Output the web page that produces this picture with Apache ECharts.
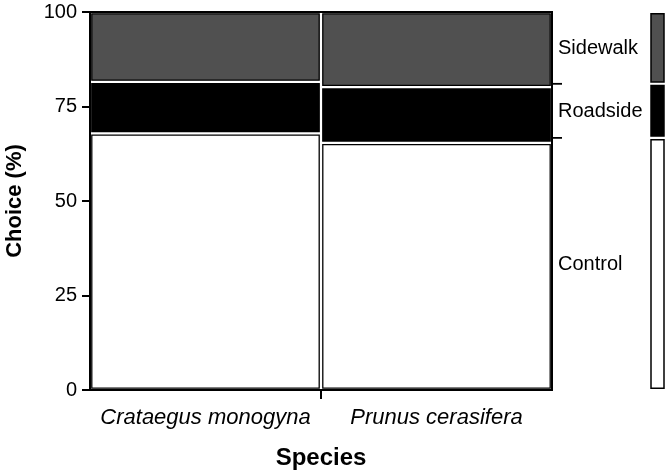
<!DOCTYPE html>
<html>
<head>
<meta charset="utf-8">
<script src="https://cdn.jsdelivr.net/npm/echarts@6/dist/echarts.min.js"></script>
<style>
  html,body{margin:0;padding:0;background:#fff;}
  #chart{width:669px;height:475px;}
</style>
</head>
<body>
<div id="chart"></div>
<script>
// categories
const species = ['Crataegus monogyna', 'Prunus cerasifera']
const groups = ['Control', 'Roadside', 'Sidewalk']
// choice (%) per species, bottom to top
const control = [67.9, 65.4]
const roadside = [13.6, 14.7]
const sidewalk = [18.5, 19.9]
// overall choice (%) shown on the right
const overall = [66.7, 14.3, 19.0]
const yTicks = [0, 25, 50, 75, 100]

const fills = ['#ffffff', '#000000', '#505050']
const font = '"Liberation Sans", Arial, sans-serif'

// build stacked segments [speciesIdx, start, end, groupIdx]
const layers = [control, roadside, sidewalk]
let mosaic = []
species.forEach((s, i) => {
  let acc = 0
  layers.forEach((arr, g) => {
    mosaic.push([i, acc, acc + arr[i], g])
    acc += arr[i]
  })
})
let margin = []
let acc2 = 0
overall.forEach((v, g) => {
  margin.push([acc2, acc2 + v, g])
  acc2 += v
})

const chart = echarts.init(document.getElementById('chart'), null, {renderer: 'canvas'})

function renderMosaic(params, api){
  const i = api.value(0), y0 = api.value(1), y1 = api.value(2), g = api.value(3)
  const c = api.coord([i, 0])
  const bw = api.size([1, 0])[0]
  const top = api.coord([i, y1])[1]
  const bot = api.coord([i, y0])[1]
  const inset = 1.8
  const children = [{
    type: 'rect',
    shape: {x: c[0] - bw / 2 + inset, y: top + inset, width: bw - 2 * inset, height: bot - top - 2 * inset},
    style: {fill: fills[g], stroke: '#000', lineWidth: 1.3}
  }]
  // tick between the two species, under the axis
  if (i > 0 && g === 0) {
    const xb = c[0] - bw / 2
    children.push({
      type: 'line',
      shape: {x1: xb, y1: c[1], x2: xb, y2: c[1] + 9},
      style: {stroke: '#000', lineWidth: 2}
    })
  }
  return {type: 'group', children}
}

function renderMargin(params, api){
  const y0 = api.value(0), y1 = api.value(1), g = api.value(2)
  const last = species.length - 1
  const c = api.coord([last, 0])
  const bw = api.size([1, 0])[0]
  const xr = c[0] + bw / 2
  const top = api.coord([last, y1])[1]
  const bot = api.coord([last, y0])[1]
  const children = [{
    type: 'text',
    style: {
      text: groups[g], x: xr + 6, y: (top + bot) / 2 + 1,
      fill: '#000', fontSize: 20, fontFamily: font,
      align: 'left', verticalAlign: 'middle'
    }
  }, {
    type: 'rect',
    shape: {x: xr + 99, y: top + 1.8, width: 13, height: bot - top - 3.6},
    style: {fill: fills[g], stroke: '#000', lineWidth: 1.5}
  }]
  if (g < groups.length - 1) {
    children.push({
      type: 'line',
      shape: {x1: xr, y1: top, x2: xr + 10, y2: top},
      style: {stroke: '#000', lineWidth: 1.8}
    })
  }
  return {type: 'group', children}
}

let option = {
  animation: false,
  backgroundColor: '#fff',
  grid: {
    left: 90, right: 117, top: 12, bottom: 85,
    outerBoundsMode: 'none',
    show: true, borderColor: '#000', borderWidth: 2
  },
  xAxis: {
    type: 'category',
    data: species,
    boundaryGap: true,
    name: 'Species',
    nameLocation: 'middle',
    nameGap: 56,
    nameTextStyle: {color: '#000', fontSize: 24, fontWeight: 'bold', fontFamily: font},
    axisLine: {lineStyle: {color: '#000', width: 2}},
    axisTick: {show: false},
    axisLabel: {interval: 0, color: '#000', fontSize: 22, fontStyle: 'italic', fontFamily: font, margin: 17},
    splitLine: {show: false}
  },
  yAxis: {
    type: 'value',
    min: 0,
    max: 100,
    interval: 25,
    name: 'Choice (%)',
    nameLocation: 'middle',
    nameGap: 64,
    nameTextStyle: {color: '#000', fontSize: 22, fontWeight: 'bold', fontFamily: font},
    axisLine: {show: true, lineStyle: {color: '#000', width: 2}},
    axisTick: {show: true, length: 8, lineStyle: {color: '#000', width: 2}},
    axisLabel: {
      color: '#000', fontSize: 20, fontFamily: font, margin: 13,
      formatter: v => yTicks.includes(v) ? String(v) : ''
    },
    splitLine: {show: false}
  },
  series: [{
    type: 'custom',
    name: 'mosaic',
    renderItem: renderMosaic,
    encode: {x: 0, y: [1, 2]},
    data: mosaic,
    clip: false
  }, {
    type: 'custom',
    name: 'overall',
    renderItem: renderMargin,
    encode: {y: [0, 1]},
    data: margin,
    clip: false
  }]
}

chart.setOption(option)
</script>
</body>
</html>
